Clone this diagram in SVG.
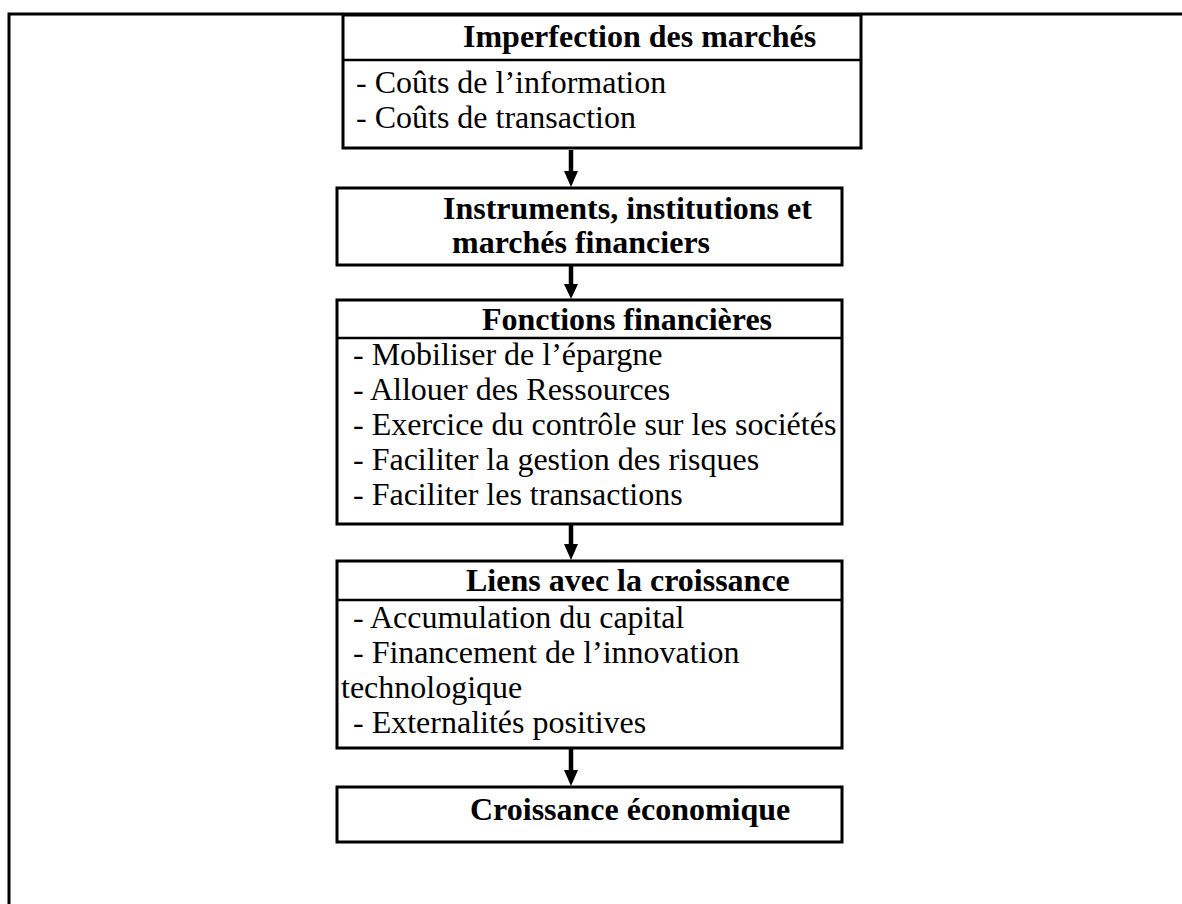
<svg xmlns="http://www.w3.org/2000/svg" width="1182" height="904" viewBox="0 0 1182 904">
<defs>
<style>
.box{fill:#fff;stroke:#000;stroke-width:3}
.div{stroke:#000;stroke-width:2.5}
.t{font-family:"Liberation Serif","Times New Roman",serif;font-size:32px;fill:#000}
.b{font-weight:bold}
.frame{stroke:#000;stroke-width:3;fill:none}
.shaft{stroke:#000;stroke-width:4.5}
</style>
</defs>
<g id="frame">
<path class="frame" d="M1182,14 L9,14 L9,904"/>
</g>
<g id="n1">
<rect class="box" x="343" y="15" width="518" height="133"/>
<line class="div" x1="343" y1="60" x2="861" y2="60"/>
<text class="t b" x="463" y="47">Imperfection des marchés</text>
<text class="t" x="356" y="93">- Coûts de l’information</text>
<text class="t" x="356" y="128">- Coûts de transaction</text>
</g>
<g id="n2">
<rect class="box" x="337" y="188" width="505" height="77"/>
<text class="t b" x="443" y="219">Instruments, institutions et</text>
<text class="t b" x="452" y="253">marchés financiers</text>
</g>
<g id="n3">
<rect class="box" x="337" y="300" width="505" height="224"/>
<line class="div" x1="337" y1="338" x2="842" y2="338"/>
<text class="t b" x="482" y="330">Fonctions financières</text>
<text class="t" x="353" y="365">- Mobiliser de l’épargne</text>
<text class="t" x="353" y="400">- Allouer des Ressources</text>
<text class="t" x="353" y="435">- Exercice du contrôle sur les sociétés</text>
<text class="t" x="353" y="470">- Faciliter la gestion des risques</text>
<text class="t" x="353" y="505">- Faciliter les transactions</text>
</g>
<g id="n4">
<rect class="box" x="337" y="561" width="505" height="187"/>
<line class="div" x1="337" y1="600" x2="842" y2="600"/>
<text class="t b" x="466" y="591">Liens avec la croissance</text>
<text class="t" x="353" y="628">- Accumulation du capital</text>
<text class="t" x="353" y="663">- Financement de l’innovation</text>
<text class="t" x="341" y="698">technologique</text>
<text class="t" x="353" y="733">- Externalités positives</text>
</g>
<g id="n5">
<rect class="box" x="337" y="787" width="505" height="55"/>
<text class="t b" x="470" y="820">Croissance économique</text>
</g>
<g id="connectors">
<path d="M571,150 L571,173" class="shaft"/><path d="M564,171 L578,171 L571,187 Z"/>
<path d="M571,266 L571,285" class="shaft"/><path d="M564,284 L578,284 L571,299 Z"/>
<path d="M571,525 L571,545" class="shaft"/><path d="M564,544 L578,544 L571,560 Z"/>
<path d="M571,749 L571,771" class="shaft"/><path d="M564,770 L578,770 L571,786 Z"/>
</g>
</svg>
